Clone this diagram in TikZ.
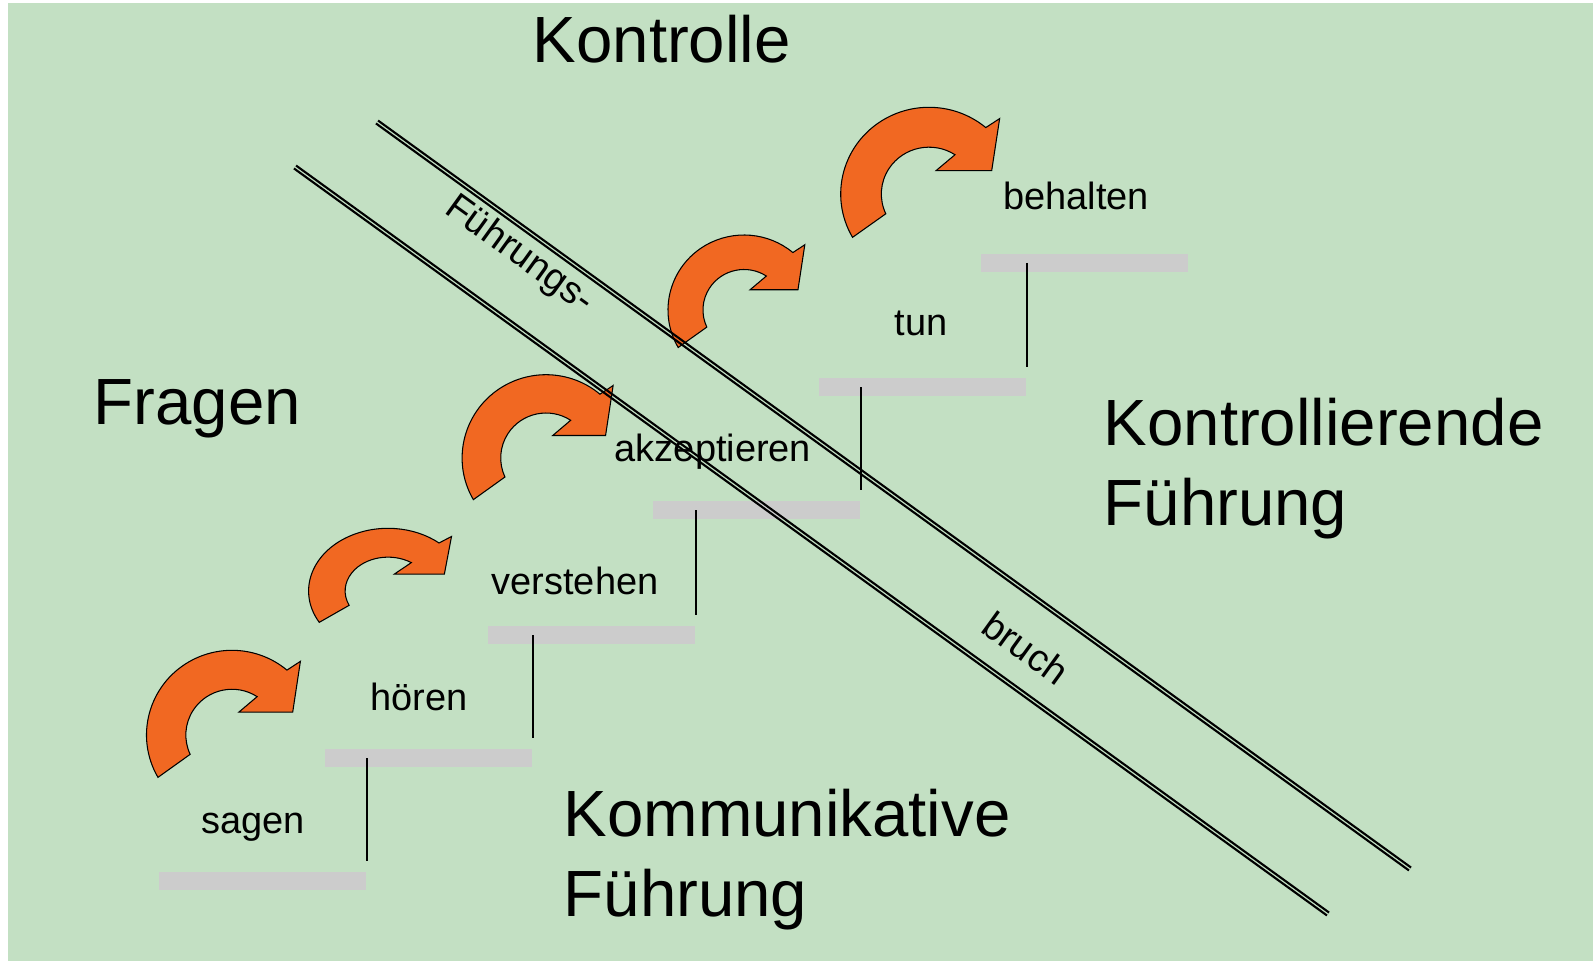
\documentclass[tikz,border=0pt]{standalone}
\usepackage{fontspec}
\setmainfont{Liberation Sans}
\usepackage{tikz}

\definecolor{hintergrund}{RGB}{195,224,195}
\definecolor{pfeilorange}{RGB}{241,104,34}
\definecolor{stufengrau}{RGB}{204,204,204}

\tikzset{
    stufe/.style={fill=stufengrau, minimum width=20.7mm, minimum height=1.8mm, inner sep=0pt},
    wort/.style={font=\fontsize{10.8}{13}\selectfont, anchor=base, inner sep=0pt},
    schraeg/.style={font=\fontsize{10.8}{13}\selectfont, rotate=-35.87, inner sep=0pt},
    titel/.style={font=\fontsize{18.6}{22.5}\selectfont, anchor=base west, inner sep=0pt, align=left},
    bogen/.style={fill=pfeilorange, draw=black, line width=0.3pt},
    kante/.style={line width=0.2mm},
    linie/.style={line width=0.21mm},
}

\begin{document}
\begin{tikzpicture}[x=0.1mm,y=-0.1mm]
    \useasboundingbox (0,0) rectangle (1593,961);
    \fill[hintergrund] (8,3) rectangle (1593,961);
    % Stufen
    \node[stufe] (s1) at (262.5,881) {};
    \node[stufe] (s2) at (428.5,758) {};
    \node[stufe] (s3) at (591.5,635) {};
    \node[stufe] (s4) at (756.5,510) {};
    \node[stufe] (s5) at (922.5,387) {};
    \node[stufe] (s6) at (1084.5,263) {};
    \draw[kante,shorten >=1mm] (s1.east |- s2.center) -- (s1.north east);
    \draw[kante,shorten >=1mm] (s2.east |- s3.center) -- (s2.north east);
    \draw[kante,shorten >=1mm] (s3.east |- s4.center) -- (s3.north east);
    \draw[kante,shorten >=1mm] (s4.east |- s5.center) -- (s4.north east);
    \draw[kante,shorten >=1mm] (s5.east |- s6.center) -- (s5.north east);
    % Pfeile
    \foreach \cx/\cy/\rx/\ry in {232/735/85.5/84.7, 388/591/79.4/62.7, 546/458/83.9/83.3, 744/310/76/75, 929/194/88.3/86.7}
        \draw[bogen, shift={(\cx,\cy)}, xscale=\rx, yscale=-\ry]
            (210:1) arc[start angle=210, end angle=50, radius=1] -- (0.80,0.87) -- (0.71,0.27)
            -- (0.08,0.27) -- (57:0.54) arc[start angle=57, end angle=205, radius=0.54] -- cycle;
    % Fuehrungsbruch
    \coordinate (o1) at (377,122);
    \coordinate (o2) at (1410,869);
    \coordinate (u1) at (295,167);
    \coordinate (u2) at (1328,914);
    \foreach \a/\b in {o1/o2, u1/u2}
        \foreach \s in {-1,1}
            \draw[linie] ([shift={(-1.05*\s,1.45*\s)}]\a) -- ([shift={(-1.05*\s,1.45*\s)}]\b);
    \node[schraeg] (bruch1) at (519,255) {Führungs-};
    \node[schraeg] (bruch2) at (1026,648) {bruch};
    % Woerter
    \node[wort] (sagen) at (253,833) {sagen};
    \node[wort] (hoeren) at (419,710) {hören};
    \node[wort] (verstehen) at (575,594) {verstehen};
    \node[wort] (akzeptieren) at (713,461) {akzeptieren};
    \node[wort] (tun) at (921,336) {tun};
    \node[wort] (behalten) at (1076,210) {behalten};
    % Titel
    \node[titel] (kontrolle) at (532,63) {Kontrolle};
    \node[titel] (fragen) at (93,424) {Fragen};
    \node[titel] (kontrollierend) at (1103,525) {Kontrollierende\\Führung};
    \node[titel] (kommunikativ) at (563,916) {Kommunikative\\Führung};
\end{tikzpicture}
\end{document}
